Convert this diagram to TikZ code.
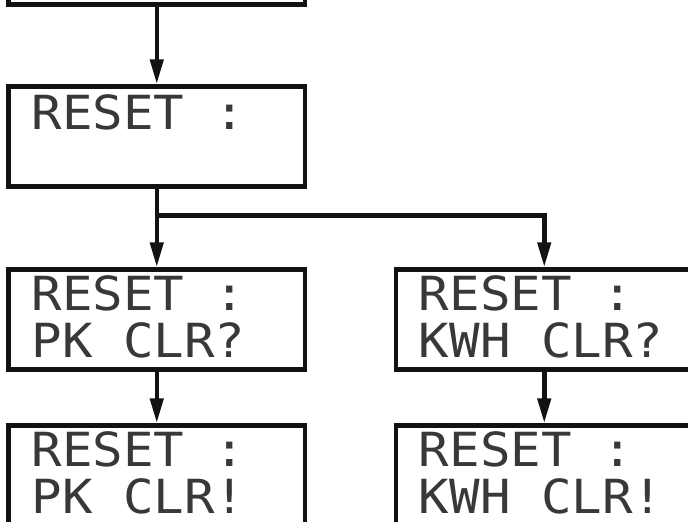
\documentclass[tikz,border=0pt]{standalone}
\usepackage{fontspec}
\newfontfamily\lcdfont[FakeStretch=1.08]{DejaVu Sans Mono}
\usetikzlibrary{arrows.meta}
\tikzset{
  lcdbox/.style={draw=black!93, line width=4.5pt, minimum width=296.5pt, minimum height=100pt, inner sep=0pt},
  lcdtext/.style={anchor=base west, inner sep=0pt, text depth=0pt, font=\lcdfont\fontsize{47}{47}\selectfont, text=black!78},
  flow/.style={draw=black!93, line width=4.5pt, -{Triangle[length=25pt,width=13pt]}},
}
\begin{document}
\begin{tikzpicture}[x=1pt,y=-1pt]
\useasboundingbox (0,0) rectangle (688,522);
\clip (0,0) rectangle (688,522);
% boxes
\node[lcdbox] (top) at (156.75,-45.5) {};
\node[lcdbox] (reset) at (156.75,136.5) {};
\node[lcdbox] (pkq) at (156.75,319.5) {};
\node[lcdbox] (kwq) at (544.25,319.5) {};
\node[lcdbox] (pkx) at (156.75,475.5) {};
\node[lcdbox] (kwx) at (544.25,475.5) {};
% texts
\node[lcdtext] (t1) at ([xshift=25pt,yshift=-45pt]reset.north west) {RESET :};
\node[lcdtext] (t2) at ([xshift=25pt,yshift=-43.5pt]pkq.north west) {RESET :};
\node[lcdtext] (t3) at ([xshift=25pt,yshift=-90pt]pkq.north west) {PK CLR?};
\node[lcdtext] (t4) at ([xshift=25pt,yshift=-43.5pt]kwq.north west) {RESET :};
\node[lcdtext] (t5) at ([xshift=25pt,yshift=-90pt]kwq.north west) {KWH CLR?};
\node[lcdtext] (t6) at ([xshift=25pt,yshift=-43.5pt]pkx.north west) {RESET :};
\node[lcdtext] (t7) at ([xshift=25pt,yshift=-90pt]pkx.north west) {PK CLR!};
\node[lcdtext] (t8) at ([xshift=25pt,yshift=-43.5pt]kwx.north west) {RESET :};
\node[lcdtext] (t9) at ([xshift=25pt,yshift=-90pt]kwx.north west) {KWH CLR!};
% connectors
\coordinate (split) at (156.75,215.5);
\draw[flow] (top.south) -- (reset.north);
\draw[flow] (reset.south) -- (pkq.north);
\draw[flow] (split) -| (kwq.north);
\draw[flow] (pkq.south) -- (pkx.north);
\draw[flow] (kwq.south) -- (kwx.north);
\end{tikzpicture}
\end{document}
